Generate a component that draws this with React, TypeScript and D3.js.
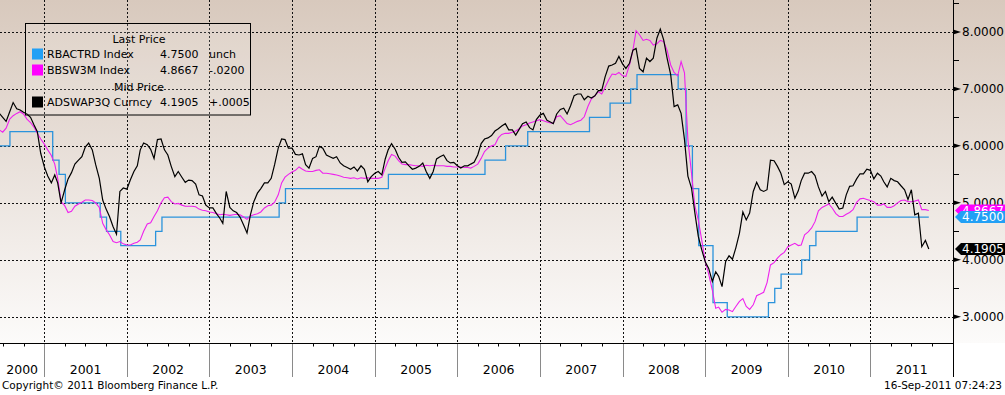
import React from 'react';
import * as d3 from 'd3';

const WIDTH = 1005;
const HEIGHT = 395;
const PLOT_RIGHT = 953;
const PLOT_BOTTOM = 343;
const FONT = '"DejaVu Sans", Verdana, sans-serif';

// RBA cash rate target, value from each date on
const rbaDates = [
  '2000-06-16', '2000-08-02', '2001-02-07', '2001-03-07', '2001-04-04', '2001-09-05', '2001-10-03',
  '2001-12-05', '2002-05-08', '2002-06-05', '2003-11-05', '2003-12-03', '2005-03-02', '2006-05-03',
  '2006-08-02', '2006-11-08', '2007-08-08', '2007-11-07', '2008-02-06', '2008-03-05', '2008-09-03',
  '2008-10-08', '2008-11-05', '2008-12-03', '2009-02-04', '2009-04-08', '2009-10-07', '2009-11-04',
  '2009-12-02', '2010-03-03', '2010-04-07', '2010-05-05', '2010-11-03', '2011-09-16',
];
const rbaValues = [
  6.0, 6.25, 5.75, 5.5, 5.0, 4.75, 4.5,
  4.25, 4.5, 4.75, 5.0, 5.25, 5.5, 5.75,
  6.0, 6.25, 6.5, 6.75, 7.0, 7.25, 7.0,
  6.0, 5.25, 4.25, 3.25, 3.0, 3.25, 3.5,
  3.75, 4.0, 4.25, 4.5, 4.75, 4.75,
];

// half-monthly readings (1st and 16th), from 16-Jun-2000 to 16-Sep-2011, one year per row
const bbswValues = [
  6.28, 6.24, 6.31, 6.47, 6.53, 6.57, 6.60, 6.56, 6.47, 6.41, 6.33, 6.22, 6.12,
  6.03, 5.93, 5.83, 5.68, 5.43, 5.02, 4.95, 4.83, 4.85, 4.94, 4.98, 5.01, 5.05, 5.05, 5.04, 5.00, 4.92, 4.64, 4.53, 4.44, 4.32, 4.30, 4.32, 4.28,
  4.26, 4.26, 4.29, 4.31, 4.35, 4.50, 4.63, 4.65, 4.76, 4.86, 5.00, 5.09, 5.10, 5.02, 4.98, 4.99, 4.96, 4.94, 4.94, 4.94, 4.93, 4.89, 4.87, 4.86,
  4.84, 4.83, 4.81, 4.79, 4.80, 4.79, 4.78, 4.79, 4.80, 4.79, 4.75, 4.71, 4.77, 4.79, 4.81, 4.84, 4.91, 4.95, 4.96, 5.01, 5.14, 5.35, 5.45, 5.50,
  5.54, 5.57, 5.63, 5.59, 5.56, 5.55, 5.55, 5.57, 5.58, 5.52, 5.52, 5.51, 5.50, 5.49, 5.47, 5.45, 5.44, 5.43, 5.44, 5.42, 5.44, 5.43, 5.44, 5.43,
  5.43, 5.43, 5.45, 5.61, 5.74, 5.85, 5.82, 5.74, 5.68, 5.67, 5.67, 5.66, 5.65, 5.65, 5.64, 5.66, 5.65, 5.66, 5.65, 5.65, 5.65, 5.64, 5.64, 5.63,
  5.63, 5.63, 5.62, 5.62, 5.61, 5.64, 5.68, 5.78, 5.90, 5.96, 6.00, 6.02, 6.14, 6.20, 6.22, 6.22, 6.24, 6.26, 6.30, 6.35, 6.37, 6.40, 6.42, 6.44,
  6.46, 6.44, 6.42, 6.40, 6.40, 6.51, 6.53, 6.46, 6.39, 6.37, 6.40, 6.43, 6.45, 6.51, 6.69, 6.82, 6.88, 6.95, 6.91, 7.03, 7.16, 7.26, 7.25, 7.29,
  7.23, 7.22, 7.42, 7.68, 8.02, 7.95, 7.85, 7.87, 7.85, 7.77, 7.79, 7.85, 7.83, 7.68, 7.42, 7.29, 7.23, 7.48, 7.28, 6.11, 5.52, 4.94, 4.70, 4.35,
  3.97, 3.75, 3.47, 3.15, 3.17, 3.08, 3.13, 3.12, 3.09, 3.18, 3.27, 3.32, 3.18, 3.13, 3.21, 3.37, 3.40, 3.43, 3.60, 3.91, 3.95, 4.03, 4.09, 4.13,
  4.23, 4.26, 4.29, 4.25, 4.26, 4.44, 4.49, 4.56, 4.67, 4.86, 4.92, 4.95, 4.98, 4.91, 4.81, 4.76, 4.76, 4.80, 4.83, 4.88, 5.01, 5.07, 5.08, 5.06,
  5.04, 5.02, 4.96, 4.96, 4.98, 4.92, 4.92, 4.95, 5.00, 5.04, 5.05, 5.02, 5.02, 5.03, 5.05, 4.88, 4.88, 4.8667,
];

const adswapValues = [
  6.57, 6.50, 6.43, 6.60, 6.76, 6.65, 6.63, 6.59, 6.56, 6.50, 6.37, 6.25, 5.87,
  5.63, 5.47, 5.35, 5.49, 5.35, 5.00, 5.23, 5.42, 5.53, 5.68, 5.75, 5.81, 5.98, 6.05, 5.93, 5.67, 5.43, 5.05, 4.89, 4.76, 4.58, 4.45, 5.20, 5.26,
  5.24, 5.40, 5.55, 5.65, 5.93, 6.05, 6.02, 5.94, 5.78, 6.11, 6.12, 5.93, 5.84, 5.64, 5.46, 5.55, 5.45, 5.36, 5.40, 5.39, 5.33, 5.14, 5.12, 4.96,
  4.91, 4.91, 4.81, 4.73, 4.64, 5.20, 4.92, 4.86, 4.83, 4.75, 4.61, 4.47, 4.79, 5.02, 5.17, 5.25, 5.35, 5.35, 5.43, 5.67, 5.96, 6.12, 6.11, 5.96,
  5.96, 5.85, 5.84, 5.86, 5.67, 5.61, 5.78, 5.81, 5.99, 5.96, 5.84, 5.81, 5.78, 5.81, 5.70, 5.65, 5.62, 5.59, 5.63, 5.56, 5.65, 5.59, 5.37, 5.46,
  5.52, 5.55, 5.49, 5.77, 5.93, 6.04, 5.94, 5.80, 5.71, 5.72, 5.65, 5.59, 5.61, 5.64, 5.70, 5.55, 5.43, 5.55, 5.77, 5.81, 5.84, 5.74, 5.70, 5.71,
  5.65, 5.61, 5.65, 5.65, 5.68, 5.71, 5.84, 6.04, 6.12, 6.14, 6.18, 6.26, 6.30, 6.35, 6.39, 6.28, 6.28, 6.19, 6.29, 6.39, 6.42, 6.32, 6.28, 6.46,
  6.54, 6.57, 6.45, 6.42, 6.39, 6.56, 6.64, 6.66, 6.56, 6.70, 6.88, 6.91, 6.91, 6.81, 6.87, 6.84, 6.88, 6.97, 6.97, 7.21, 7.40, 7.42, 7.45, 7.57,
  7.44, 7.36, 7.45, 7.68, 7.71, 7.36, 7.30, 7.54, 7.48, 7.54, 7.89, 8.05, 7.86, 7.54, 7.25, 6.69, 6.72, 6.57, 6.11, 5.47, 5.26, 4.82, 4.41, 4.18,
  3.96, 3.85, 3.62, 3.79, 3.71, 3.53, 3.97, 4.07, 4.01, 4.21, 4.47, 4.84, 4.70, 4.82, 5.20, 5.36, 5.23, 5.20, 5.23, 5.75, 5.74, 5.64, 5.52, 5.32,
  5.37, 5.33, 5.08, 5.21, 5.39, 5.52, 5.52, 5.55, 5.48, 5.28, 5.12, 5.20, 5.02, 5.10, 4.99, 4.89, 4.91, 5.14, 5.29, 5.30, 5.42, 5.51, 5.51, 5.59,
  5.57, 5.42, 5.52, 5.47, 5.37, 5.28, 5.43, 5.39, 5.37, 5.30, 5.23, 5.06, 5.23, 4.79, 4.82, 4.23, 4.34, 4.1905,
];

const yTicks = [3, 4, 5, 6, 7, 8];
const yMinorTicks = [3.5, 4.5, 5.5, 6.5, 7.5, 8.5];

const legendNames = ['RBACTRD Index', 'BBSW3M Index', 'ADSWAP3Q Curncy'];
const legendLast = ['4.7500', '4.8667', '4.1905'];
const legendChange = ['unch', '-.0200', '+.0005'];
const seriesColors = ['#2b93dc', '#ee22ee', '#000000'];
const swatchColors = ['#22a0f5', '#ff00ff', '#000000'];

const parse = d3.timeParse('%Y-%m-%d');
const halfMonth = (i: number) => new Date(2000, 5 + Math.floor((i + 1) / 2), i % 2 === 0 ? 16 : 1);

export default function App() {
  const x = d3.scaleTime().domain([new Date(2000, 5, 19), new Date(2012, 0, 1)]).range([0, PLOT_RIGHT]);
  const y = d3.scaleLinear().domain([2.54, 8.56]).range([PLOT_BOTTOM, 0]);

  const rba = rbaDates.map((d, i) => ({ date: parse(d) as Date, value: rbaValues[i] }));
  const bbsw = bbswValues.map((v, i) => ({ date: halfMonth(i), value: v }));
  const adswap = adswapValues.map((v, i) => ({ date: halfMonth(i), value: v }));

  type P = { date: Date; value: number };
  const line = d3.line<P>().x((d) => x(d.date)).y((d) => y(d.value));
  const stepLine = d3.line<P>().x((d) => x(d.date)).y((d) => y(d.value)).curve(d3.curveStepAfter);

  const yearStarts = d3.timeYear.range(new Date(2001, 0, 1), new Date(2012, 0, 1));
  const years = d3.range(2000, 2012);
  const quarters = d3.timeMonth
    .every(3)!
    .range(new Date(2000, 5, 19), new Date(2012, 0, 1))
    .filter((d) => d.getMonth() !== 0);

  const tags = [
    { value: 4.8667, label: '4.8667', color: '#ff00ff' },
    { value: 4.75, label: '4.7500', color: '#22a0f5' },
    { value: 4.1905, label: '4.1905', color: '#000000' },
  ];

  const legendRows = [54, 70, 102];

  return (
    <svg width={WIDTH} height={HEIGHT} style={{ position: 'absolute', left: 0, top: 0, background: '#fff' }}>
      <defs>
        <linearGradient id="bg" x1="0" y1="0" x2="0" y2="1">
          <stop offset="0" stopColor="#d8c9bd" />
          <stop offset="0.5" stopColor="#eae2dc" />
          <stop offset="1" stopColor="#fcfbfa" />
        </linearGradient>
        <clipPath id="plot">
          <rect x={0} y={0} width={PLOT_RIGHT} height={PLOT_BOTTOM} />
        </clipPath>
      </defs>
      <rect x={0} y={0} width={WIDTH} height={PLOT_BOTTOM} fill="url(#bg)" />

      {/* dotted grid */}
      {yTicks.map((t) => (
        <line key={'h' + t} x1={0} x2={PLOT_RIGHT} y1={Math.round(y(t)) + 0.5} y2={Math.round(y(t)) + 0.5}
          stroke="#111" strokeDasharray="2,2" />
      ))}
      {yearStarts.map((d) => (
        <line key={'v' + d.getFullYear()} x1={Math.round(x(d)) + 0.5} x2={Math.round(x(d)) + 0.5} y1={0} y2={PLOT_BOTTOM}
          stroke="#111" strokeDasharray="2,2" />
      ))}

      {/* series */}
      <g clipPath="url(#plot)" fill="none">
        <path d={stepLine(rba) || ''} stroke={seriesColors[0]} strokeWidth={1.3} />
        <path d={line(bbsw) || ''} stroke={seriesColors[1]} strokeWidth={1.1} />
        <path d={line(adswap) || ''} stroke={seriesColors[2]} strokeWidth={1.2} />
      </g>

      {/* legend */}
      <rect x={25.5} y={23.5} width={225} height={91.5} fill="rgba(255,255,255,0.15)" stroke="#000" />
      <g fontFamily={FONT} fontSize={11} fill="#000">
        <text x={139} y={43} textAnchor="middle">Last Price</text>
        <text x={139} y={91} textAnchor="middle">Mid Price</text>
        {legendNames.map((n, i) => (
          <g key={n}>
            <rect x={32} y={legendRows[i] - 5.5} width={11} height={11} fill={swatchColors[i]} />
            <text x={47} y={legendRows[i] + 4}>{n}</text>
            <text x={160} y={legendRows[i] + 4}>{legendLast[i]}</text>
            <text x={209} y={legendRows[i] + 4}>{legendChange[i]}</text>
          </g>
        ))}
      </g>

      {/* right axis */}
      <line x1={PLOT_RIGHT + 0.5} x2={PLOT_RIGHT + 0.5} y1={0} y2={377} stroke="#000" />
      {yTicks.map((t) => (
        <g key={'t' + t}>
          <path d={`M${PLOT_RIGHT},${y(t) - 2.5}L${PLOT_RIGHT + 8},${y(t)}L${PLOT_RIGHT},${y(t) + 2.5}Z`} fill="#000" />
          <text x={962} y={y(t)} dy="0.36em" fontFamily={FONT} fontSize={12} fill="#000">
            {d3.format('.4f')(t)}
          </text>
        </g>
      ))}
      {yMinorTicks.map((t) => (
        <line key={'m' + t} x1={PLOT_RIGHT} x2={PLOT_RIGHT + 6} y1={Math.round(y(t)) + 0.5} y2={Math.round(y(t)) + 0.5} stroke="#000" />
      ))}

      {/* last value tags */}
      {tags.map((t) => {
        const cy = y(t.value);
        return (
          <g key={t.label}>
            <path d={`M955,${cy}L961,${cy - 6}L${WIDTH},${cy - 6}L${WIDTH},${cy + 6}L961,${cy + 6}Z`} fill={t.color} />
            <text x={962} y={cy} dy="0.36em" fontFamily={FONT} fontSize={12} fill="#fff">{t.label}</text>
          </g>
        );
      })}

      {/* bottom axis */}
      <line x1={0} x2={PLOT_RIGHT} y1={PLOT_BOTTOM + 0.5} y2={PLOT_BOTTOM + 0.5} stroke="#000" />
      {quarters.map((d) => (
        <line key={'q' + +d} x1={Math.round(x(d)) + 0.5} x2={Math.round(x(d)) + 0.5} y1={PLOT_BOTTOM} y2={PLOT_BOTTOM + 3.5} stroke="#000" />
      ))}
      {yearStarts.map((d) => (
        <line key={'s' + d.getFullYear()} x1={Math.round(x(d)) + 0.5} x2={Math.round(x(d)) + 0.5} y1={PLOT_BOTTOM + 1} y2={377} stroke="#8a8a8a" />
      ))}
      {years.map((yr) => {
        const a = Math.max(0, x(new Date(yr, 0, 1)));
        const b = Math.min(PLOT_RIGHT, x(new Date(yr + 1, 0, 1)));
        return (
          <text key={'y' + yr} x={(a + b) / 2} y={374} textAnchor="middle" fontFamily={FONT} fontSize={12.5} fill="#000">
            {yr}
          </text>
        );
      })}

      {/* footer */}
      <text x={2} y={389} fontFamily={FONT} fontSize={10.5} fill="#000">Copyright© 2011 Bloomberg Finance L.P.</text>
      <text x={1002} y={389} textAnchor="end" fontFamily={FONT} fontSize={10.5} fill="#000">16-Sep-2011 07:24:23</text>
    </svg>
  );
}
